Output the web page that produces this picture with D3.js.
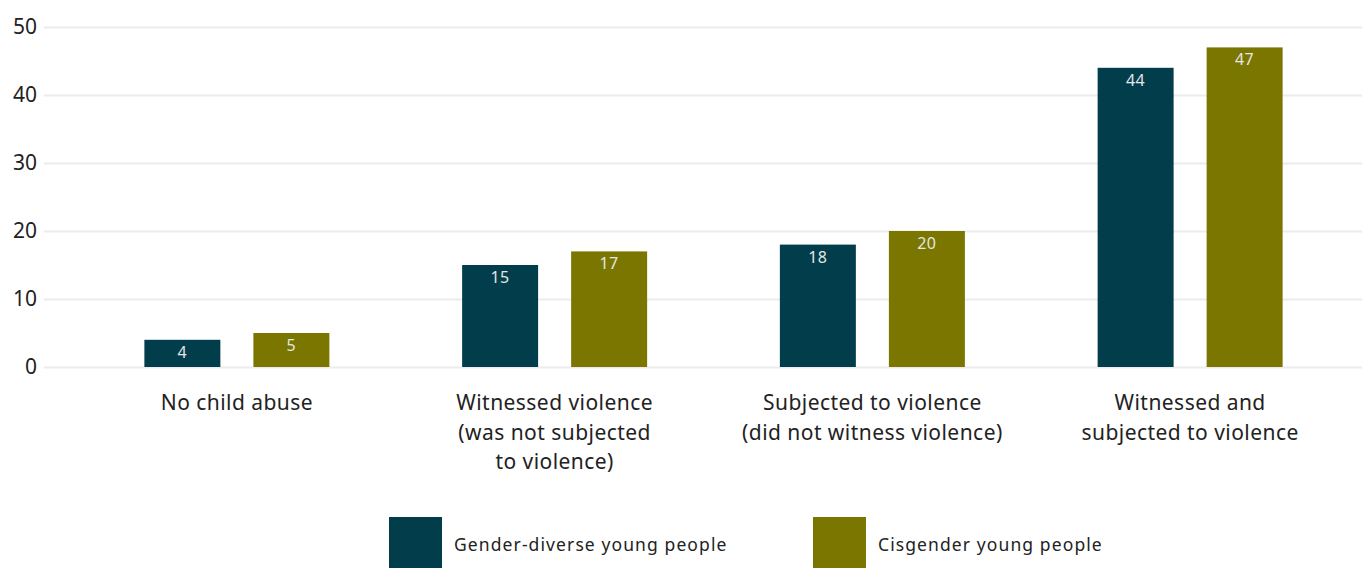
<!DOCTYPE html>
<html>
<head>
<meta charset="utf-8">
<script src="https://cdn.jsdelivr.net/npm/d3@7"></script>
<style>
  html, body { margin: 0; padding: 0; background: #fff; }
  svg { display: block; font-family: "Noto Sans", Lato, sans-serif; }
</style>
</head>
<body>
<svg id="chart" width="1367" height="568"></svg>
<script>
// Share of young people (%) by childhood violence experience
const categories = [
  ["No child abuse"],
  ["Witnessed violence", "(was not subjected", "to violence)"],
  ["Subjected to violence", "(did not witness violence)"],
  ["Witnessed and", "subjected to violence"]
];
const seriesNames = ["Gender-diverse young people", "Cisgender young people"];
const genderDiverse = [4, 15, 18, 44];
const cisgender = [5, 17, 20, 47];
const yTicks = [0, 10, 20, 30, 40, 50];
const colors = ["#023d4c", "#7a7600"];

const svg = d3.select("#chart");
const catKeys = categories.map(c => c.join(" "));
const series = [genderDiverse, cisgender];
const FONT = "'Noto Sans', Lato, sans-serif";

const y = d3.scaleLinear().domain([0, 50]).range([367, 27]);
const x0 = d3.scaleBand().domain(catKeys).range([78, 1349]).padding(0);
const x1 = d3.scaleBand().domain(seriesNames).range([0, 185]).paddingInner(0.303).paddingOuter(0);
const groupOffset = (x0.bandwidth() - 185) / 2;

// gridlines and y tick labels
const yAxis = d3.axisLeft(y).tickValues(yTicks).tickSize(-(1362 - 44)).tickPadding(8);
const gAxis = svg.append("g").attr("transform", "translate(44,0)").call(yAxis);
gAxis.select(".domain").remove();
gAxis.selectAll(".tick line").attr("stroke", "#ececec").attr("stroke-width", 2);
gAxis.selectAll(".tick text")
  .attr("font-size", 21).attr("fill", "#222").attr("x", -7)
  .attr("font-family", FONT);

// bars
const groups = svg.append("g").selectAll("g")
  .data(catKeys)
  .join("g")
  .attr("transform", d => `translate(${x0(d) + groupOffset},0)`);

groups.each(function (cat, ci) {
  const g = d3.select(this);
  seriesNames.forEach((s, si) => {
    const v = series[si][ci];
    g.append("rect")
      .attr("x", x1(s))
      .attr("y", y(v))
      .attr("width", x1.bandwidth())
      .attr("height", y(0) - y(v))
      .attr("fill", colors[si]);
    g.append("text")
      .attr("x", x1(s) + x1.bandwidth() / 2)
      .attr("y", y(v) + 18)
      .attr("text-anchor", "middle")
      .attr("font-size", 16)
      .attr("letter-spacing", 0.5)
      .attr("fill", "#e4e6e4")
      .text(v);
  });
});

// category labels
const xLabels = svg.append("g").selectAll("text")
  .data(categories)
  .join("text")
  .attr("x", (d, i) => x0(catKeys[i]) + x0.bandwidth() / 2)
  .attr("y", 410)
  .attr("text-anchor", "middle")
  .attr("font-size", 21)
  .attr("letter-spacing", 0.45)
  .attr("fill", "#222");
xLabels.each(function (lines) {
  d3.select(this).selectAll("tspan")
    .data(lines)
    .join("tspan")
    .attr("x", d3.select(this).attr("x"))
    .attr("dy", (d, i) => i === 0 ? 0 : 29.5)
    .text(d => d);
});

// legend
const legendX = [389, 813];
const legend = svg.append("g").selectAll("g")
  .data(seriesNames)
  .join("g")
  .attr("transform", (d, i) => `translate(${legendX[i]},517)`);
legend.append("rect").attr("width", 53).attr("height", 51).attr("fill", (d, i) => colors[i]);
legend.append("text")
  .attr("x", 65).attr("y", 34)
  .attr("font-size", 17.5)
  .attr("letter-spacing", 1.1)
  .attr("fill", "#222")
  .text(d => d);
</script>
</body>
</html>
